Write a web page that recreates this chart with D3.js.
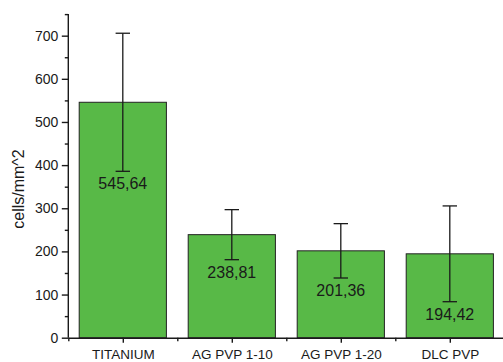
<!DOCTYPE html>
<html>
<head>
<meta charset="utf-8">
<script src="https://cdn.jsdelivr.net/npm/d3@7"></script>
<style>
  html, body { margin: 0; padding: 0; background: #fff; }
  svg { display: block; font-family: Arial, "Liberation Sans", sans-serif; }
</style>
</head>
<body>
<svg id="chart" width="503" height="362"></svg>
<script>
// Cell density per sample (mean ± standard deviation)
const categories = ["TITANIUM", "AG PVP 1-10", "AG PVP 1-20", "DLC PVP"];
const means = [545.64, 238.81, 201.36, 194.42];
const errors = [160, 58, 63, 111];
const valueLabels = ["545,64", "238,81", "201,36", "194,42"];
const yMajorTicks = [0, 100, 200, 300, 400, 500, 600, 700];
const yMinorTicks = [50, 150, 250, 350, 450, 550, 650, 750];
const yTitle = "cells/mm^2";

const svg = d3.select("#chart");
const x = d3.scaleLinear().domain([0.5, 4.5]).range([68.3, 504.3]);
const y = d3.scaleLinear().domain([0, 750]).range([337.7, 14.1]);
const barHalf = 0.4;
const ink = "#1a1a1a";

// bars
svg.append("g").selectAll("rect")
  .data(means)
  .join("rect")
  .attr("x", (d, i) => x(i + 1 - barHalf))
  .attr("width", (d, i) => x(i + 1 + barHalf) - x(i + 1 - barHalf))
  .attr("y", d => y(d))
  .attr("height", d => y(0) - y(d))
  .attr("fill", "#58b947")
  .attr("stroke", "#222")
  .attr("stroke-width", 1);

// error bars
const eb = svg.append("g").attr("stroke", ink).attr("stroke-width", 1.3).attr("fill", "none");
means.forEach((m, i) => {
  const cx = x(i + 1), hi = y(m + errors[i]), lo = y(m - errors[i]);
  eb.append("line").attr("x1", cx).attr("x2", cx).attr("y1", hi).attr("y2", lo);
  eb.append("line").attr("x1", cx - 7.2).attr("x2", cx + 7.2).attr("y1", hi).attr("y2", hi);
  eb.append("line").attr("x1", cx - 7.2).attr("x2", cx + 7.2).attr("y1", lo).attr("y2", lo);
});

// value labels under the lower error caps
svg.append("g").selectAll("text")
  .data(means)
  .join("text")
  .attr("x", (d, i) => x(i + 1))
  .attr("y", (d, i) => y(d - errors[i]) + 18)
  .attr("text-anchor", "middle")
  .attr("font-size", 16)
  .attr("fill", ink)
  .text((d, i) => valueLabels[i]);

// y axis
const yAxis = svg.append("g").attr("transform", `translate(${x(0.5)},0)`);
yAxis.call(d3.axisLeft(y).tickValues(yMajorTicks).tickSize(6.5).tickSizeOuter(0).tickPadding(3.5))
  .call(g => g.select(".domain").attr("d", `M0,${y(750)}V${y(0)}`));
yAxis.append("g").call(d3.axisLeft(y).tickValues(yMinorTicks).tickSize(3.5).tickSizeOuter(0).tickFormat(""))
  .call(g => g.select(".domain").remove());
yAxis.selectAll("line, path").attr("stroke", ink).attr("stroke-width", 1.4);
yAxis.selectAll("text").attr("font-size", 14).attr("fill", ink).attr("font-family", "Arial, 'Liberation Sans', sans-serif");

// x axis
const xAxis = svg.append("g").attr("transform", `translate(0,${y(0)})`);
xAxis.call(d3.axisBottom(x).tickValues([1, 2, 3, 4]).tickSize(5).tickSizeOuter(0).tickPadding(7)
  .tickFormat((d, i) => categories[i]));
xAxis.append("g").call(d3.axisBottom(x).tickValues([0.5, 1.5, 2.5, 3.5, 4.5]).tickSize(3.5).tickSizeOuter(0).tickFormat(""))
  .call(g => g.select(".domain").remove());
xAxis.selectAll("line, path").attr("stroke", ink).attr("stroke-width", 1.4);
xAxis.selectAll("text").attr("font-size", 13.5).attr("fill", ink).attr("font-family", "Arial, 'Liberation Sans', sans-serif")
  .attr("dy", null).attr("y", 21.3);

// y axis title
svg.append("text")
  .attr("transform", "translate(24,189) rotate(-90)")
  .attr("text-anchor", "middle")
  .attr("font-size", 16)
  .attr("fill", ink)
  .text(yTitle);
</script>
</body>
</html>
